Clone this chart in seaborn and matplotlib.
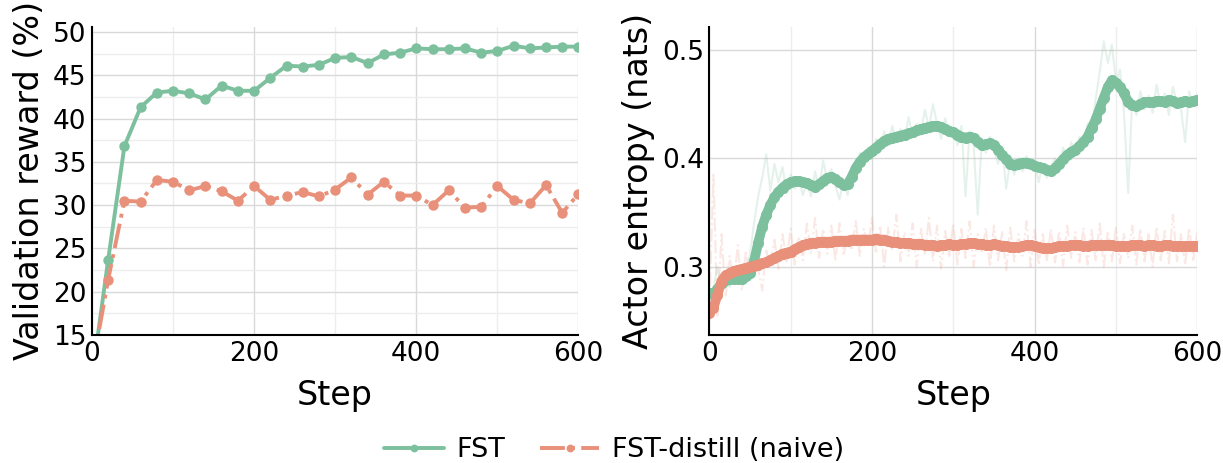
import numpy as np
import seaborn as sns
import matplotlib
matplotlib.use("Agg")
import matplotlib.pyplot as plt
from matplotlib.ticker import MultipleLocator

# validation reward, evaluated every 20 steps
val_steps = [0, 20, 40, 60, 80, 100, 120, 140, 160, 180, 200, 220, 240, 260, 280, 300,
             320, 340, 360, 380, 400, 420, 440, 460, 480, 500, 520, 540, 560, 580, 600]
val_fst = [10.0, 23.7, 36.8, 41.3, 43.0, 43.2, 42.9, 42.2, 43.8, 43.2, 43.2, 44.7, 46.1, 46.0, 46.2, 47.0,
           47.1, 46.4, 47.4, 47.6, 48.1, 48.0, 48.0, 48.1, 47.6, 47.8, 48.4, 48.1, 48.2, 48.3, 48.3]
val_naive = [11.0, 21.4, 30.5, 30.4, 32.9, 32.7, 31.7, 32.2, 31.6, 30.5, 32.2, 30.6, 31.1, 31.5, 31.0, 31.8,
             33.2, 31.2, 32.7, 31.1, 31.1, 30.0, 31.7, 29.7, 29.8, 32.2, 30.6, 30.2, 32.3, 29.1, 31.3]

# actor entropy, logged every 5 steps
ent_steps = list(range(0, 601, 5))
ent_fst_raw = [
    0.270, 0.280, 0.300, 0.282, 0.295, 0.281, 0.290, 0.296, 0.284, 0.293,
    0.312, 0.340, 0.365, 0.382, 0.404, 0.370, 0.395, 0.378, 0.392, 0.368,
    0.385, 0.372, 0.381, 0.366, 0.378, 0.365, 0.388, 0.372, 0.398, 0.380,
    0.390, 0.375, 0.362, 0.380, 0.366, 0.392, 0.385, 0.405, 0.398, 0.410,
    0.402, 0.418, 0.408, 0.425, 0.412, 0.430, 0.415, 0.427, 0.418, 0.438,
    0.420, 0.432, 0.422, 0.445, 0.428, 0.450, 0.432, 0.418, 0.437, 0.420,
    0.428, 0.412, 0.430, 0.365, 0.425, 0.412, 0.348, 0.418, 0.405, 0.420,
    0.408, 0.395, 0.410, 0.372, 0.398, 0.385, 0.400, 0.388, 0.402, 0.392,
    0.398, 0.378, 0.395, 0.382, 0.392, 0.400, 0.395, 0.410, 0.398, 0.415,
    0.405, 0.420, 0.412, 0.432, 0.425, 0.455, 0.480, 0.508, 0.488, 0.505,
    0.470, 0.482, 0.440, 0.368, 0.455, 0.440, 0.462, 0.445, 0.458, 0.442,
    0.468, 0.448, 0.460, 0.440, 0.466, 0.450, 0.445, 0.415, 0.462, 0.448,
    0.460]
ent_fst_smooth = [
    0.276, 0.275, 0.279, 0.285, 0.288, 0.289, 0.289, 0.289, 0.289, 0.291,
    0.294, 0.305, 0.322, 0.337, 0.348, 0.357, 0.364, 0.369, 0.373, 0.376,
    0.378, 0.379, 0.379, 0.378, 0.377, 0.375, 0.374, 0.376, 0.379, 0.382,
    0.383, 0.381, 0.378, 0.375, 0.376, 0.383, 0.391, 0.397, 0.401, 0.404,
    0.407, 0.410, 0.413, 0.416, 0.418, 0.419, 0.420, 0.421, 0.422, 0.423,
    0.424, 0.426, 0.427, 0.428, 0.429, 0.430, 0.430, 0.429, 0.427, 0.425,
    0.424, 0.422, 0.420, 0.419, 0.420, 0.419, 0.415, 0.412, 0.413, 0.414,
    0.412, 0.408, 0.403, 0.399, 0.395, 0.394, 0.395, 0.396, 0.396, 0.395,
    0.393, 0.392, 0.391, 0.389, 0.388, 0.391, 0.395, 0.399, 0.403, 0.406,
    0.408, 0.411, 0.415, 0.420, 0.428, 0.436, 0.446, 0.456, 0.466, 0.472,
    0.470, 0.466, 0.460, 0.452, 0.449, 0.448, 0.450, 0.452, 0.452, 0.452,
    0.453, 0.453, 0.452, 0.454, 0.453, 0.451, 0.452, 0.453, 0.452, 0.453,
    0.454]
ent_naive_raw = [
    0.262, 0.385, 0.255, 0.330, 0.272, 0.310, 0.285, 0.320, 0.278, 0.315,
    0.290, 0.318, 0.298, 0.278, 0.315, 0.300, 0.325, 0.298, 0.330, 0.305,
    0.335, 0.302, 0.328, 0.306, 0.340, 0.312, 0.345, 0.308, 0.335, 0.312,
    0.338, 0.305, 0.340, 0.310, 0.330, 0.315, 0.342, 0.310, 0.335, 0.318,
    0.345, 0.312, 0.338, 0.300, 0.336, 0.315, 0.348, 0.305, 0.332, 0.310,
    0.340, 0.300, 0.335, 0.312, 0.345, 0.305, 0.338, 0.298, 0.333, 0.310,
    0.340, 0.302, 0.335, 0.308, 0.342, 0.300, 0.330, 0.312, 0.336, 0.300,
    0.338, 0.306, 0.332, 0.297, 0.336, 0.305, 0.330, 0.310, 0.342, 0.300,
    0.334, 0.302, 0.330, 0.306, 0.335, 0.304, 0.333, 0.301, 0.338, 0.308,
    0.332, 0.304, 0.336, 0.302, 0.334, 0.306, 0.340, 0.300, 0.333, 0.305,
    0.336, 0.303, 0.331, 0.308, 0.338, 0.302, 0.335, 0.305, 0.330, 0.300,
    0.337, 0.306, 0.333, 0.303, 0.348, 0.305, 0.330, 0.302, 0.336, 0.306,
    0.332]
ent_naive_smooth = [
    0.257, 0.262, 0.274, 0.287, 0.292, 0.294, 0.296, 0.297, 0.298, 0.299,
    0.300, 0.301, 0.302, 0.303, 0.304, 0.306, 0.308, 0.310, 0.312, 0.313,
    0.314, 0.316, 0.318, 0.320, 0.321, 0.322, 0.322, 0.323, 0.323, 0.323,
    0.323, 0.324, 0.324, 0.324, 0.324, 0.325, 0.325, 0.325, 0.325, 0.325,
    0.325, 0.326, 0.325, 0.325, 0.324, 0.323, 0.323, 0.322, 0.322, 0.322,
    0.321, 0.321, 0.321, 0.320, 0.320, 0.320, 0.319, 0.320, 0.320, 0.321,
    0.320, 0.320, 0.321, 0.321, 0.322, 0.322, 0.321, 0.321, 0.320, 0.320,
    0.321, 0.320, 0.319, 0.319, 0.318, 0.318, 0.318, 0.319, 0.320, 0.320,
    0.319, 0.318, 0.317, 0.317, 0.317, 0.318, 0.319, 0.319, 0.319, 0.320,
    0.320, 0.320, 0.319, 0.319, 0.320, 0.320, 0.320, 0.320, 0.320, 0.320,
    0.319, 0.319, 0.319, 0.319, 0.320, 0.320, 0.320, 0.319, 0.320, 0.320,
    0.319, 0.319, 0.320, 0.320, 0.319, 0.319, 0.319, 0.319, 0.319, 0.319,
    0.319]

green = "#7cc09e"
salmon = "#e9907a"

sns.set_style("whitegrid")
plt.rcParams["font.family"] = ["DejaVu Sans"]
plt.rcParams["text.color"] = "black"
plt.rcParams["axes.labelcolor"] = "black"
plt.rcParams["xtick.color"] = "black"
plt.rcParams["ytick.color"] = "black"

fig, (ax1, ax2) = plt.subplots(1, 2, figsize=(12.23, 4.63), dpi=100)
ax1.set_position([0.0752, 0.2765, 0.3978, 0.6658])
ax2.set_position([0.58, 0.2765, 0.399, 0.6658])

# left: validation reward
sns.lineplot(x=val_steps, y=val_fst, ax=ax1, color=green, marker="o", markersize=7.5,
             markeredgewidth=0, linewidth=2.8, label="FST")
sns.lineplot(x=val_steps, y=val_naive, ax=ax1, color=salmon, marker="o", markersize=7.5,
             markeredgewidth=0, linewidth=2.8, linestyle="-.", label="FST-distill (naive)")
ax1.set_xlim(0, 600)
ax1.set_ylim(15, 50.6)
ax1.xaxis.set_major_locator(MultipleLocator(200))
ax1.xaxis.set_minor_locator(MultipleLocator(100))
ax1.yaxis.set_major_locator(MultipleLocator(5))
ax1.yaxis.set_minor_locator(MultipleLocator(2.5))
ax1.set_xlabel("Step", fontsize=24, labelpad=9)
ax1.set_ylabel("Validation reward (%)", fontsize=24, labelpad=5)

# right: actor entropy (raw + smoothed)
sns.lineplot(x=ent_steps, y=ent_fst_raw, ax=ax2, color=green, alpha=0.2, linewidth=1.5)
sns.lineplot(x=ent_steps, y=ent_naive_raw, ax=ax2, color=salmon, alpha=0.2, linewidth=1.5,
             linestyle="-.")
sns.lineplot(x=ent_steps, y=ent_fst_smooth, ax=ax2, color=green, marker="o", markersize=8,
             markeredgewidth=0, linewidth=7, solid_capstyle="round", solid_joinstyle="round")
sns.lineplot(x=ent_steps, y=ent_naive_smooth, ax=ax2, color=salmon, marker="o", markersize=8,
             markeredgewidth=0, linewidth=7, solid_capstyle="round", solid_joinstyle="round")
ax2.set_xlim(0, 600)
ax2.set_ylim(0.237, 0.5215)
ax2.xaxis.set_major_locator(MultipleLocator(200))
ax2.xaxis.set_minor_locator(MultipleLocator(100))
ax2.yaxis.set_major_locator(MultipleLocator(0.1))
ax2.set_xlabel("Step", fontsize=24, labelpad=9)
ax2.set_ylabel("Actor entropy (nats)", fontsize=24, labelpad=5)

for ax in (ax1, ax2):
    sns.despine(ax=ax)
    ax.grid(which="major", color="#d9d9d9", linewidth=1.0)
    ax.grid(which="minor", color="#ededed", linewidth=1.0)
    ax.tick_params(which="both", length=0, labelsize=19, pad=4)
    for side in ("left", "bottom"):
        ax.spines[side].set_color("black")
        ax.spines[side].set_linewidth(1.5)

handles, labels = ax1.get_legend_handles_labels()
ax1.get_legend().remove()
fig.legend(handles, labels, loc="center", bbox_to_anchor=(0.502, 0.028), ncol=2, frameon=False,
           fontsize=19.5, markerscale=0.75, handlelength=2.2, handletextpad=0.45, columnspacing=1.3)

fig.savefig("out.png", dpi=100)
